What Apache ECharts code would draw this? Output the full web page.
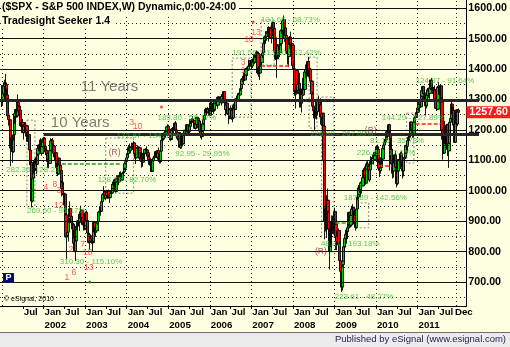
<!DOCTYPE html>
<html><head><meta charset="utf-8">
<script src="https://cdn.jsdelivr.net/npm/echarts@6.0.0/dist/echarts.min.js"></script>
<style>html,body{margin:0;padding:0;background:#FFFFE1;}#c{width:510px;height:347px;}</style>
</head><body><div id="c"></div>
<script>
// ---------- DATA (weekly S&P 500: [close, high, low]; open = prior week close) ----------
const yearStart = ['2001-01-05','2002-01-04','2003-01-03','2004-01-02','2005-01-07','2006-01-06','2007-01-05','2008-01-04','2009-01-02','2010-01-08','2011-01-07'];
const closeBefore = 1320;
const w2001 = [[1298,1348,1275],[1319,1325,1280],[1343,1355,1310],[1355,1365,1330],[1349,1384,1345],[1315,1355,1310],[1302,1335,1295],[1246,1305,1238],[1234,1260,1214],[1233,1250,1225],[1151,1233,1148],[1140,1175,1081],[1160,1170,1130],[1128,1170,1092],[1184,1185,1125],[1243,1253,1165],[1253,1254,1220],[1267,1269,1232],[1246,1270,1240],[1292,1295,1241],[1278,1316,1275],[1261,1280,1245],[1265,1286,1255],[1214,1265,1210],[1225,1241,1205],[1224,1240,1205],[1191,1236,1190],[1216,1219,1168],[1211,1225,1193],[1206,1215,1178],[1214,1226,1200],[1190,1216,1175],[1162,1196,1161],[1185,1186,1148],[1134,1185,1130],[1086,1135,1085],[1093,1096,1073],[966,1093,945],[1041,1041,962],[1071,1075,1027],[1092,1100,1056],[1073,1098,1065],[1105,1110,1065],[1087,1105,1054],[1120,1125,1085],[1139,1143,1115],[1150,1152,1130],[1139,1152,1125],[1167,1173,1135],[1123,1168,1115],[1145,1148,1120],[1161,1165,1142]];
const w2002 = [[1173,1177,1145],[1146,1176,1143],[1128,1146,1124],[1133,1140,1117],[1122,1139,1100],[1096,1125,1075],[1104,1120,1094],[1090,1106,1074],[1132,1132,1089],[1164,1173,1130],[1166,1170,1151],[1149,1173,1147],[1147,1155,1131],[1123,1148,1121],[1111,1125,1099],[1125,1131,1103],[1076,1126,1075],[1073,1092,1064],[1055,1090,1048],[1107,1110,1054],[1084,1107,1080],[1067,1085,1061],[1028,1067,1012],[1007,1032,981],[989,1040,985],[990,1001,952],[989,994,947],[921,990,918],[848,927,847],[853,860,776],[864,909,852],[909,913,833],[929,934,895],[941,965,922],[916,941,903],[894,924,873],[890,912,876],[845,892,840],[827,871,818],[801,848,798],[835,836,769],[884,886,830],[898,898,870],[901,903,867],[895,924,883],[910,911,868],[931,937,906],[936,951,929],[912,936,900],[889,913,886],[896,899,869],[875,903,872]];
const w2003 = [[909,911,870],[928,932,905],[902,935,900],[861,906,860],[856,868,838],[830,866,827],[835,836,806],[851,853,832],[841,852,826],[829,842,815],[833,834,801],[896,896,830],[864,895,859],[879,883,848],[868,893,864],[894,895,862],[899,920,888],[930,931,898],[933,937,919],[947,948,925],[933,946,918],[964,966,930],[988,991,961],[989,1002,979],[996,1015,984],[976,1000,972],[986,994,969],[998,1003,978],[993,1002,978],[999,1000,973],[980,1004,974],[978,989,960],[991,993,975],[993,1012,990],[1008,1009,990],[1021,1030,1006],[1019,1029,1008],[1036,1040,1018],[997,1036,995],[1030,1040,995],[1039,1048,1027],[1039,1051,1036],[1029,1048,1018],[1051,1054,1028],[1053,1062,1044],[1050,1064,1045],[1035,1052,1032],[1058,1060,1035],[1062,1072,1055],[1074,1075,1058],[1089,1090,1068],[1096,1099,1087]];
const w2004 = [[1108,1118,1094],[1122,1131,1107],[1140,1140,1117],[1142,1150,1136],[1131,1155,1123],[1143,1143,1123],[1146,1158,1141],[1144,1157,1139],[1145,1151,1134],[1157,1163,1143],[1121,1159,1106],[1110,1125,1103],[1108,1110,1088],[1142,1144,1108],[1139,1150,1135],[1135,1147,1125],[1141,1145,1119],[1107,1142,1106],[1099,1127,1098],[1096,1106,1076],[1094,1101,1079],[1121,1122,1084],[1123,1127,1103],[1136,1137,1120],[1135,1140,1120],[1134,1146,1128],[1125,1144,1124],[1113,1126,1107],[1101,1120,1100],[1086,1105,1083],[1102,1104,1078],[1064,1109,1062],[1065,1079,1061],[1098,1099,1064],[1108,1109,1094],[1114,1120,1100],[1124,1126,1110],[1129,1131,1116],[1110,1130,1107],[1132,1132,1102],[1122,1142,1121],[1108,1123,1095],[1096,1115,1090],[1130,1132,1090],[1166,1167,1130],[1184,1185,1160],[1170,1188,1168],[1183,1183,1168],[1191,1197,1173],[1188,1197,1173],[1194,1206,1186],[1210,1211,1194],[1212,1218,1206]];
const w2005 = [[1186,1217,1183],[1185,1192,1175],[1168,1196,1167],[1171,1180,1163],[1203,1205,1171],[1205,1209,1194],[1202,1212,1198],[1211,1212,1184],[1222,1224,1198],[1200,1229,1198],[1190,1206,1186],[1171,1190,1171],[1173,1191,1165],[1191,1192,1172],[1143,1191,1142],[1152,1163,1137],[1157,1164,1139],[1179,1184,1150],[1154,1179,1146],[1189,1191,1154],[1199,1199,1185],[1196,1205,1190],[1201,1202,1192],[1217,1219,1199],[1192,1217,1191],[1194,1205,1188],[1212,1212,1182],[1228,1229,1211],[1234,1236,1219],[1234,1238,1225],[1226,1245,1223],[1230,1237,1220],[1220,1234,1217],[1205,1221,1203],[1218,1228,1201],[1241,1243,1218],[1238,1243,1227],[1215,1238,1205],[1229,1233,1213],[1196,1230,1190],[1187,1198,1173],[1178,1197,1168],[1198,1200,1176],[1220,1223,1193],[1235,1235,1216],[1248,1249,1230],[1268,1269,1246],[1265,1273,1255],[1259,1272,1256],[1267,1276,1254],[1269,1272,1257],[1248,1270,1248]];
const w2006 = [[1285,1287,1245],[1288,1294,1282],[1261,1291,1261],[1284,1286,1259],[1264,1294,1262],[1267,1275,1253],[1287,1289,1260],[1289,1294,1280],[1287,1297,1278],[1281,1288,1269],[1307,1310,1281],[1303,1311,1296],[1295,1310,1291],[1296,1310,1293],[1289,1297,1280],[1311,1318,1286],[1311,1316,1295],[1326,1327,1303],[1291,1327,1290],[1267,1294,1259],[1280,1282,1245],[1288,1290,1256],[1252,1288,1250],[1252,1257,1219],[1245,1260,1238],[1270,1272,1235],[1265,1280,1260],[1236,1273,1235],[1240,1260,1225],[1279,1280,1240],[1279,1287,1270],[1267,1282,1263],[1302,1305,1266],[1295,1306,1290],[1311,1312,1290],[1299,1316,1294],[1320,1322,1298],[1315,1328,1310],[1336,1340,1314],[1350,1352,1329],[1366,1367,1349],[1369,1372,1357],[1377,1389,1367],[1364,1382,1360],[1381,1385,1362],[1401,1403,1379],[1401,1407,1398],[1397,1407,1378],[1410,1415,1395],[1427,1431,1409],[1411,1428,1408],[1418,1427,1410]];
const w2007 = [[1410,1430,1398],[1431,1432,1404],[1431,1435,1424],[1422,1440,1417],[1448,1450,1416],[1438,1453,1436],[1456,1457,1431],[1451,1461,1448],[1387,1457,1382],[1403,1409,1374],[1387,1414,1364],[1436,1438,1386],[1421,1438,1408],[1444,1444,1421],[1453,1453,1436],[1484,1485,1449],[1494,1498,1476],[1506,1510,1483],[1506,1513,1490],[1523,1523,1499],[1516,1530,1505],[1536,1540,1514],[1508,1540,1490],[1533,1538,1506],[1503,1540,1500],[1503,1517,1484],[1530,1532,1503],[1552,1556,1508],[1534,1556,1529],[1459,1535,1458],[1433,1488,1430],[1454,1504,1436],[1446,1457,1371],[1479,1481,1444],[1474,1481,1432],[1454,1491,1450],[1484,1488,1439],[1526,1530,1476],[1527,1535,1515],[1558,1560,1521],[1562,1576,1546],[1501,1563,1500],[1535,1535,1489],[1510,1553,1489],[1454,1521,1449],[1459,1483,1438],[1441,1462,1415],[1481,1488,1406],[1505,1508,1469],[1468,1523,1465],[1484,1485,1453],[1478,1498,1469]];
const w2008 = [[1412,1478,1411],[1401,1421,1370],[1325,1413,1312],[1331,1355,1270],[1395,1396,1322],[1331,1395,1316],[1350,1368,1318],[1353,1360,1317],[1331,1388,1327],[1293,1336,1273],[1288,1321,1274],[1330,1336,1257],[1315,1353,1312],[1370,1380,1312],[1333,1380,1330],[1390,1395,1324],[1398,1400,1370],[1414,1422,1385],[1388,1416,1384],[1425,1426,1388],[1376,1440,1373],[1400,1406,1364],[1361,1404,1359],[1360,1376,1325],[1318,1370,1317],[1278,1325,1272],[1263,1285,1254],[1239,1275,1227],[1261,1262,1200],[1258,1292,1240],[1260,1285,1234],[1296,1297,1247],[1298,1313,1274],[1292,1300,1261],[1283,1300,1263],[1242,1304,1217],[1252,1274,1212],[1255,1256,1134],[1213,1255,1180],[1099,1215,1098],[899,1098,840],[941,1006,866],[877,985,857],[969,984,845],[931,1007,897],[873,934,818],[800,877,741],[896,897,801],[876,896,815],[880,919,837],[888,918,858],[873,888,857]];
const w2009 = [[932,935,857],[890,944,888],[850,891,805],[832,869,804],[826,877,821],[869,870,812],[827,876,818],[770,835,754],[735,780,734],[683,740,667],[757,758,672],[769,804,749],[816,833,770],[843,846,779],[857,857,814],[870,876,838],[866,870,826],[878,885,841],[929,930,878],[883,931,878],[887,925,879],[919,920,881],[940,950,919],[946,956,930],[921,946,903],[919,934,889],[896,931,896],[879,898,869],[940,943,875],[979,980,940],[987,996,969],[1010,1019,987],[1004,1013,992],[1026,1027,979],[1029,1040,1018],[1016,1030,991],[1043,1048,1016],[1068,1074,1041],[1044,1080,1041],[1025,1063,1020],[1071,1076,1025],[1088,1096,1071],[1080,1101,1075],[1036,1085,1034],[1069,1072,1029],[1093,1097,1069],[1091,1113,1086],[1091,1111,1074],[1106,1119,1091],[1106,1111,1086],[1102,1117,1095],[1126,1127,1103],[1115,1133,1115]];
const w2010 = [[1145,1146,1115],[1136,1150,1131],[1092,1151,1090],[1074,1104,1071],[1066,1104,1045],[1076,1080,1056],[1109,1112,1076],[1104,1112,1086],[1139,1139,1105],[1150,1151,1136],[1160,1170,1141],[1167,1181,1156],[1178,1181,1165],[1194,1195,1175],[1192,1214,1190],[1217,1218,1180],[1187,1220,1181],[1111,1197,1066],[1136,1174,1125],[1088,1150,1056],[1089,1105,1040],[1065,1106,1060],[1092,1093,1043],[1118,1120,1085],[1077,1131,1070],[1023,1079,1011],[1078,1079,1018],[1065,1100,1062],[1103,1104,1056],[1102,1120,1088],[1122,1128,1102],[1079,1130,1076],[1072,1096,1069],[1065,1075,1040],[1105,1105,1047],[1110,1111,1091],[1126,1131,1110],[1149,1149,1121],[1146,1159,1132],[1165,1167,1132],[1176,1184,1159],[1183,1190,1159],[1183,1196,1177],[1226,1227,1184],[1199,1227,1195],[1200,1205,1174],[1189,1207,1180],[1225,1225,1174],[1240,1241,1223],[1244,1247,1233],[1257,1259,1240],[1258,1260,1249]];
const w2011 = [[1272,1278,1258],[1293,1294,1262],[1283,1297,1276],[1276,1302,1272],[1311,1312,1276],[1329,1331,1310],[1343,1344,1320],[1320,1342,1294],[1321,1333,1300],[1304,1325,1292],[1279,1304,1249],[1314,1315,1271],[1332,1338,1309],[1328,1339,1322],[1320,1328,1304],[1337,1339,1302],[1364,1364,1331],[1340,1371,1329],[1338,1346,1331],[1333,1347,1318],[1331,1334,1311],[1300,1346,1296],[1271,1302,1269],[1272,1292,1262],[1268,1298,1262],[1340,1341,1268],[1344,1357,1334],[1316,1344,1313],[1345,1347,1295],[1292,1345,1282],[1199,1307,1168],[1179,1199,1102],[1124,1208,1121],[1177,1190,1122],[1174,1230,1170],[1154,1205,1148],[1216,1220,1136],[1136,1220,1114],[1131,1195,1128],[1155,1171,1075],[1225,1225,1156],[1238,1239,1191],[1285,1293,1231],[1253,1285,1215],[1264,1277,1226],[1216,1264,1209],[1159,1218,1158],[1244,1256,1158],[1255,1267,1231],[1220,1256,1209],[1265,1268,1213],[1257.6,1270,1249]];
const weeklyByYear = [w2001,w2002,w2003,w2004,w2005,w2006,w2007,w2008,w2009,w2010,w2011];

// axis ticks / labels
const yTickValues = [700,800,900,1000,1100,1200,1300,1400,1500,1600];
const solidLevels = [700,800,900,1000,1100,1200,1300,1400,1500,1600];
const dottedLevels = [650,750,850,950,1050,1150,1250,1350,1450,1550];
const janLines = [2001,2002,2003,2004,2005,2006,2007,2008,2009,2010,2011,2011.94];
const xTickValues = [2001.5,2002,2002.5,2003,2003.5,2004,2004.5,2005,2005.5,2006,2006.5,2007,2007.5,2008,2008.5,2009,2009.5,2010,2010.5,2011,2011.5];
const xTickLabels = ['Jul','Jan\n2002','Jul','Jan\n2003','Jul','Jan\n2004','Jul','Jan\n2005','Jul','Jan\n2006','Jul','Jan\n2007','Jul','Jan\n2008','Jul','Jan\n2009','Jul','Jan\n2010','Jul','Jan\n2011','Jul'];
const endTickValue = 2011.875, endTickLabel = 'Dec';

// horizontal "Years" levels
const elevenYearsLevel = 1296, tenYearsLevel = 1187, tenYearsStart = 2002.0;
const yearsText = ['11 Years','10 Years'];
const yearsX = [2002.894,2002.175];
const yearsY = [1343,1224];

// Seeker annotations
const greenText = ['282.36','128.27','269.60 - 95.17%','310.30 - 115.10%','128.73 - 82.70%','172.87 - 134.36%','189.80 - 56.17%','92.95 - 29.95%','191.56','213.80 - 12.42%','131.66 - 68.73%','226.80 - 267.09%','48.81 - 193.18%','223.61 - 48.27%','187.89 - 142.56%','226.71 - 17.19%','81.16 - 35.78%','144.29 - 127.89%','124.87 - 91.64%'];
const greenX = [2001.096,2001.791,2001.600,2002.391,2003.302,2003.758,2004.741,2005.170,2006.540,2007.259,2007.235,2008.416,2008.674,2009.007,2009.225,2009.537,2009.855,2010.139,2010.954];
const greenY = [1068,1068,933,766,1035,1180,1239,1121,1453,1453,1561,1186,825,651,976,1124,1163,1239,1361];
const redText = ['4','8','3','12','2','7','10','1','6','13','3','10','13','10','3','1'];
const redX = [2002.055,2002.271,2002.367,2002.367,2002.655,2002.942,2003.062,2002.559,2002.727,2003.086,2004.117,2004.261,2007.115,2006.947,2006.803,2006.803];
const redY = [1009,1019,999,950,805,822,795,713,730,746,1223,1210,1518,1495,1420,1394];
const rText = ['(R)','(R)','(R)'];
const rX = [2003.712,2009.873,2008.674];
const rY = [1124,1196,799];
const redDotX = [2004.837,2007.043], redDotY = [1275,1555];
const greenDotX = [2003.110], greenDotY = [700];
const greenDash = [[2002.439,2003.878,1088],[2009.03,2009.35,894]];
const redDash = [[2007.235,2007.954,1411],[2010.954,2011.554,1219],[2010.07,2010.38,1081]];
const boxes = [[2001.600,1232,2001.791,947],[2003.496,1173,2004.167,992],[2006.540,1436,2006.995,1242],[2007.235,1561,2007.547,1413],[2008.391,1439,2008.583,1206],[2008.691,1308,2008.986,848],[2009.537,960,2009.825,878],[2010.74,1255,2010.91,1091]];

const titleText = '($SPX - S&P 500 INDEX,W) Dynamic,0:00-24:00';
const subTitleText = 'Tradesight Seeker 1.4';
const footerText = 'Published by eSignal (www.esignal.com)';
const copyrightText = '\u00A9 eSignal, 2010';

// ---------- BUILD ----------
const BG = '#FFFFE1';
const FONT = '"Liberation Sans", Arial, sans-serif';
const T0 = 2000.952, T1 = 2012.175, T2 = 2012.439;
const YMIN = 621.1, YMAX = 1626.95;

function fracYear(d){const y=d.getUTCFullYear();const s=Date.UTC(y,0,1),e=Date.UTC(y+1,0,1);return y+(d.getTime()-s)/(e-s);}
const candles = [];
let prev = closeBefore;
weeklyByYear.forEach((arr, yi) => {
  const start = Date.parse(yearStart[yi] + 'T00:00:00Z');
  arr.forEach((w, i) => {
    const t = fracYear(new Date(start + (i*7 - 2)*86400000));
    const c = w[0], h = w[1], l = w[2];
    candles.push([t, prev, c, Math.min(l, prev, c), Math.max(h, prev, c)]);
    prev = c;
  });
});
const lastClose = candles[candles.length-1][2];

const gridLines = [];
solidLevels.forEach(v => gridLines.push({yAxis: v, lineStyle:{type:'solid', color:'#111', width:1}}));
dottedLevels.forEach(v => gridLines.push({yAxis: v, lineStyle:{type:[1,3], color:'#222', width:1}}));
janLines.forEach(v => gridLines.push({xAxis: v, lineStyle:{type:[1,3], color:'#222', width:1}}));

const dashSegs = [];
greenDash.forEach(s => { const ls={type:[4,2], color:'#2e9a2e', width:1.5}; dashSegs.push([{coord:[s[0],s[2]], lineStyle:ls},{coord:[s[1],s[2]], lineStyle:ls}]); });
redDash.forEach(s => { const ls={type:[4,2], color:'#ff2020', width:1.5}; dashSegs.push([{coord:[s[0],s[2]], lineStyle:ls},{coord:[s[1],s[2]], lineStyle:ls}]); });

const thickStyle = {type:'solid', color:'#262626', width:3.2};
const thickLines = [
  [{coord:[T0, elevenYearsLevel], lineStyle:thickStyle},{coord:[T2, elevenYearsLevel], lineStyle:thickStyle}],
  [{coord:[tenYearsStart, tenYearsLevel], lineStyle:thickStyle},{coord:[T2, tenYearsLevel], lineStyle:thickStyle}]
];

function txtSeries(texts, xs, ys, label){
  return {type:'scatter', xAxisIndex:0, yAxisIndex:0, symbolSize:0, silent:true, z:6,
    data: texts.map((s,i)=>({value:[xs[i], ys[i]], name:s})),
    label: Object.assign({show:true, formatter:'{b}', fontFamily:FONT}, label)};
}
const xLabelStyle = {align:'left', margin:0, padding:[0,0,0,1], fontSize:9.7, lineHeight:13, fontWeight:'bold', color:'#000', fontFamily:FONT, hideOverlap:false, showMinLabel:true, showMaxLabel:true};

const chart = echarts.init(document.getElementById('c'), null, {renderer:'canvas', width:510, height:347});
chart.setOption({
  animation:false,
  backgroundColor: BG,
  grid:[{left:0,right:42,top:0,bottom:41},{left:0,right:31,top:0,bottom:41}],
  xAxis:[
    {type:'value', gridIndex:0, min:T0, max:T1, position:'bottom',
     axisLine:{show:true, onZero:false, lineStyle:{color:'#000', width:1}},
     axisTick:{show:true, customValues:xTickValues, length:3, lineStyle:{color:'#000'}},
     axisLabel:Object.assign({show:true, customValues:xTickValues.concat([endTickValue]),
       formatter:(v)=>{ if (Math.abs(v-endTickValue)<1e-6) return endTickLabel; const k=xTickValues.findIndex(x=>Math.abs(x-v)<1e-6);return k>=0?xTickLabels[k]:'';}}, xLabelStyle),
     splitLine:{show:false}},
    {type:'value', gridIndex:1, min:T0, max:T2, show:false, splitLine:{show:false}}
  ],
  yAxis:[
    {type:'value', gridIndex:0, position:'right', min:YMIN, max:YMAX,
     axisLine:{show:true, lineStyle:{color:'#000', width:1}},
     axisTick:{show:false},
     axisLabel:{show:true, customValues:yTickValues, formatter:(v)=>v.toFixed(2), margin:2, fontSize:10.7, fontWeight:'bold', color:'#000', fontFamily:FONT},
     splitLine:{show:false}},
    {type:'value', gridIndex:1, min:YMIN, max:YMAX, show:false, splitLine:{show:false}}
  ],
  series:[
    {type:'line', xAxisIndex:0, yAxisIndex:0, z:1, silent:true, data:[[2005,1000]], showSymbol:false, lineStyle:{opacity:0},
     markLine:{silent:true, symbol:['none','none'], label:{show:false}, animation:false, data:gridLines},
     markArea:{silent:true, label:{show:false}, itemStyle:{color:'rgba(0,0,0,0)', borderColor:'#8a8a8a', borderWidth:1, borderType:[2,2]},
       data: boxes.map(b=>[{coord:[b[0],b[1]]},{coord:[b[2],b[3]]}])}},
    {type:'candlestick', xAxisIndex:0, yAxisIndex:0, z:3, silent:true, large:false, data:candles, barWidth:2.7,
     encode:{x:0, y:[1,2,3,4]},
     itemStyle:{color:'#00cc00', color0:'#ff0000', borderColor:'#000', borderColor0:'#000', borderWidth:0.9},
     markLine:{silent:true, symbol:['none','none'], animation:false,
       data:[{yAxis:lastClose, lineStyle:{color:'rgba(0,0,0,0)', width:0},
         label:{show:true, position:'end', distance:0, formatter:()=>lastClose.toFixed(2), color:'#fff', backgroundColor:'#ff1a1a',
           fontWeight:'bold', fontSize:10.7, fontFamily:FONT, padding:[1,3,0,3]}}]}},
    {type:'line', xAxisIndex:0, yAxisIndex:0, z:4, silent:true, data:[[2005,1000]], showSymbol:false, lineStyle:{opacity:0},
     markLine:{silent:true, symbol:['none','none'], label:{show:false}, animation:false, data:dashSegs}},
    {type:'line', xAxisIndex:1, yAxisIndex:1, z:5, silent:true, data:[[2005,1000]], showSymbol:false, lineStyle:{opacity:0},
     markLine:{silent:true, symbol:['none','none'], label:{show:false}, animation:false, data:thickLines}},
    txtSeries(greenText, greenX, greenY, {position:'right', distance:0, color:'#33b833', fontSize:8}),
    txtSeries(redText, redX, redY, {position:'inside', color:'#ff2a2a', fontSize:8.5}),
    txtSeries(rText, rX, rY, {position:'inside', color:'#8b2045', fontSize:8.5}),
    txtSeries(yearsText, yearsX, yearsY, {position:'right', distance:0, color:'#5a5a5a', fontSize:15}),
    {type:'scatter', xAxisIndex:0, yAxisIndex:0, z:6, silent:true, symbolSize:3, itemStyle:{color:'#ff1a1a'}, data:redDotX.map((x,i)=>[x,redDotY[i]])},
    {type:'scatter', xAxisIndex:0, yAxisIndex:0, z:6, silent:true, symbolSize:3, itemStyle:{color:'#1a8a1a'}, data:greenDotX.map((x,i)=>[x,greenDotY[i]])}
  ],
  graphic:[
    {type:'text', left:1, top:1, z:100, style:{text:titleText, font:'bold 10.5px '+FONT, fill:'#000', backgroundColor:BG, padding:[1,3,1,1]}},
    {type:'text', left:1, top:15, z:100, style:{text:subTitleText, font:'bold 10.5px '+FONT, fill:'#000', backgroundColor:BG, padding:[1,3,1,1]}},
    {type:'rect', left:3, top:273, z:100, shape:{width:11, height:10}, style:{fill:'#0a0a6e'}},
    {type:'text', left:5.5, top:273.5, z:101, style:{text:'P', font:'bold 9px '+FONT, fill:'#fff'}},
    {type:'text', left:4, top:296, z:100, style:{text:copyrightText, font:'7px '+FONT, fill:'#000'}},
    {type:'rect', left:0, top:333, z:100, shape:{width:510, height:14}, style:{fill:'#ECECEC'}},
    {type:'rect', left:0, top:332, z:100, shape:{width:510, height:1}, style:{fill:'#6e6e6e'}},
    {type:'text', right:4, top:334, z:101, style:{text:footerText, font:'9.5px '+FONT, fill:'#1e1e50'}}
  ]
});
</script></body></html>
